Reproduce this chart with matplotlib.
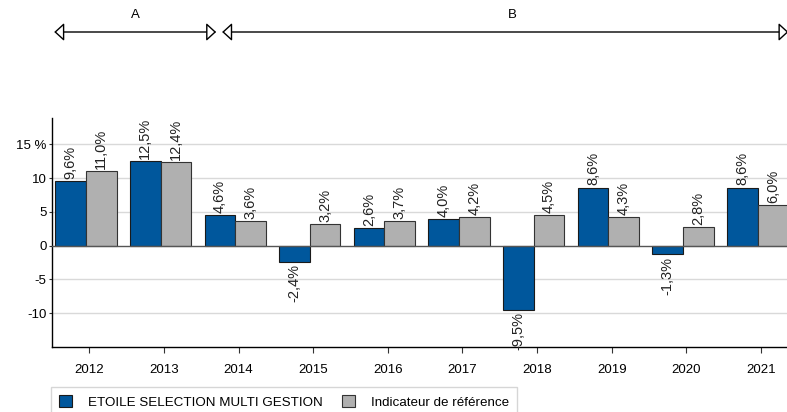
import numpy as np
import matplotlib
matplotlib.use("Agg")
import matplotlib.pyplot as plt

plt.rcParams['font.family'] = ['Liberation Sans', 'DejaVu Sans']

# data
years = ['2012', '2013', '2014', '2015', '2016', '2017', '2018', '2019', '2020', '2021']
fund = [9.6, 12.5, 4.6, -2.4, 2.6, 4.0, -9.5, 8.6, -1.3, 8.6]
bench = [11.0, 12.4, 3.6, 3.2, 3.7, 4.2, 4.5, 4.3, 2.8, 6.0]
fund_name = 'ETOILE SELECTION MULTI GESTION'
bench_name = 'Indicateur de référence'
yticks = [-10, -5, 0, 5, 10, 15]
ytick_labels = ['-10', '-5', '0', '5', '10', '15 %']
# periods (label, start, end) in bar-axis units
periods = [('A', -0.47, 1.70), ('B', 1.78, 9.37)]

blue = '#00579C'
grey = '#B0B0B0'

fig = plt.figure(figsize=(7.87, 4.12), dpi=100)
ax = fig.add_axes([52 / 787, 1 - 347 / 412, 1 - 52 / 787, (347 - 118) / 412])

x = np.arange(len(years))
w = 0.41
shift = -0.045
b1 = ax.bar(x + shift - w / 2, fund, w, color=blue, edgecolor='#1a1a1a', linewidth=0.8,
            label=fund_name, zorder=3)
b2 = ax.bar(x + shift + w / 2, bench, w, color=grey, edgecolor='#333333', linewidth=0.8,
            label=bench_name, zorder=3)

for bars, vals in ((b1, fund), (b2, bench)):
    for rect, v in zip(bars, vals):
        txt = f'{v:.1f}%'.replace('.', ',')
        cx = rect.get_x() + rect.get_width() / 2
        if v >= 0:
            ax.annotate(txt, (cx, v), xytext=(0, 1.5), textcoords='offset points',
                        rotation=90, ha='center', va='bottom', fontsize=10.5, color='#222222')
        else:
            ax.annotate(txt, (cx, v), xytext=(0, -1.5), textcoords='offset points',
                        rotation=90, ha='center', va='top', fontsize=10.5, color='#222222')

ax.set_xlim(-0.5, 9.35)
ax.set_ylim(-15, 18.9)
ax.set_yticks(yticks)
ax.set_yticklabels(ytick_labels, fontsize=9.5)
ax.set_xticks(x)
ax.set_xticklabels(years, fontsize=9.5)
ax.tick_params(axis='x', length=4, pad=8, color='#333333')
ax.tick_params(axis='y', length=2, pad=2, color='#333333')

for yv in yticks:
    if yv != 0:
        ax.axhline(yv, color='#d9d9d9', linewidth=1, zorder=1)
ax.axhline(0, color='#555555', linewidth=1, zorder=4)

for s in ['top', 'right']:
    ax.spines[s].set_visible(False)
ax.spines['left'].set_linewidth(1)
ax.spines['bottom'].set_linewidth(1)

# period arrows
trans = ax.get_xaxis_transform()
y_arrow = 1 + (118 - 32) / 229
y_label = 1 + (118 - 15) / 229
for lab, x0, x1 in periods:
    ax.annotate('', xy=(x1, y_arrow), xytext=(x0, y_arrow), xycoords=trans,
                textcoords=trans, annotation_clip=False,
                arrowprops=dict(arrowstyle='<|-|>,head_length=0.6,head_width=0.55',
                                fc='white', ec='black', lw=1, shrinkA=0, shrinkB=0,
                                mutation_scale=10))
    xm = x0 + (x1 - x0) / 2 if lab == 'A' else 5.67
    ax.text(xm, y_label, lab, transform=trans, ha='center', va='center', fontsize=9.5)

leg = fig.legend(handles=[b1, b2], loc='upper left', bbox_to_anchor=(51 / 787, 1 - 387 / 412),
                 ncol=2, frameon=True, fancybox=False, fontsize=9.6, handlelength=1.0,
                 handleheight=1.0, handletextpad=1.2, columnspacing=1.4,
                 borderpad=0.6, borderaxespad=0)
leg.get_frame().set_edgecolor('#cccccc')
leg.get_frame().set_linewidth(1)

fig.savefig('out.png', dpi=100)
